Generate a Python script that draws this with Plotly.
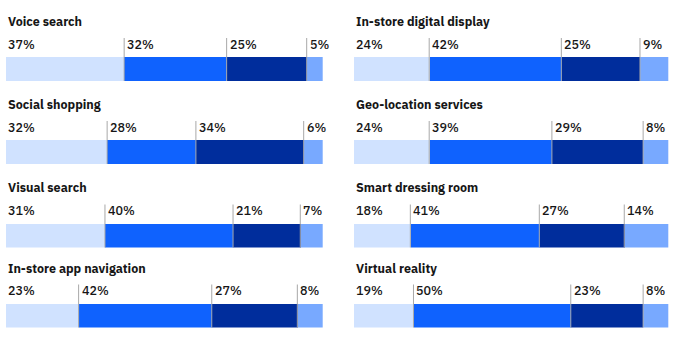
import plotly.graph_objects as go

titles = ["Voice search", "Social shopping", "Visual search", "In-store app navigation",
          "In-store digital display", "Geo-location services", "Smart dressing room", "Virtual reality"]
seg1 = [37, 32, 31, 23, 24, 24, 18, 19]
seg2 = [32, 28, 40, 42, 42, 39, 41, 50]
seg3 = [25, 34, 21, 27, 25, 29, 27, 23]
seg4 = [5, 6, 7, 8, 9, 8, 14, 8]
colors = ["#d0e2ff", "#0f62fe", "#002d9c", "#78a9ff"]

W, H = 680, 341
col_x = [(5.7, 322.7), (353.7, 668.3)]
row_top = [57, 140, 223.5, 303.5]
bar_h = 24
FONT = "IBM Plex Sans, Noto Sans, sans-serif"
TXT = "#161616"

def py(p):
    return 1 - p / H

fig = go.Figure()
layout = dict(width=W, height=H, margin=dict(l=0, r=0, t=0, b=0),
              paper_bgcolor="white", plot_bgcolor="white", showlegend=False,
              barmode="stack", bargap=0)
annotations = []
shapes = []

for k in range(8):
    col, row = divmod(k, 4)
    ax = "" if k == 0 else str(k + 1)
    vals = [seg1[k], seg2[k], seg3[k], seg4[k]]
    total = sum(vals)
    for i, v in enumerate(vals):
        fig.add_trace(go.Bar(x=[v], y=[0], orientation="h", width=1,
                             marker=dict(color=colors[i], line=dict(width=0)),
                             xaxis="x" + ax, yaxis="y" + ax, hoverinfo="skip"))
    x0, x1 = col_x[col]
    top = row_top[row]
    layout["xaxis" + ax] = dict(domain=[x0 / W, x1 / W], range=[0, total], visible=False,
                                fixedrange=True, anchor="y" + ax)
    layout["yaxis" + ax] = dict(domain=[py(top + bar_h), py(top)], range=[-0.5, 0.5],
                                visible=False, fixedrange=True, anchor="x" + ax)
    annotations.append(dict(text=titles[k], x=0, xref="x" + ax, y=py(top - 36), yref="paper",
                            xanchor="left", yanchor="middle", showarrow=False,
                            font=dict(family=FONT, size=12.5, color=TXT, weight="bold")))
    cum = 0
    for i, v in enumerate(vals):
        annotations.append(dict(text=f"{v}%", x=cum, xref="x" + ax, y=py(top - 13.5), yref="paper",
                                xanchor="left", yanchor="middle", showarrow=False,
                                xshift=0 if i == 0 else 1,
                                font=dict(family=FONT, size=12.5, color=TXT, weight=500)))
        if i > 0:
            shapes.append(dict(type="line", xref="x" + ax, yref="paper", x0=cum, x1=cum,
                               y0=py(top - 19), y1=py(top + bar_h),
                               line=dict(color="#a8a8a8", width=1), layer="above"))
        cum += v

layout["annotations"] = annotations
layout["shapes"] = shapes
fig.update_layout(**layout)
fig.write_html("out.html", config={"displayModeBar": False})
